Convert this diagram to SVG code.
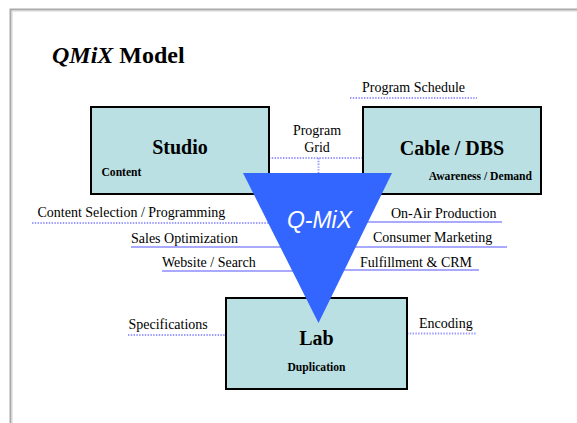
<svg xmlns="http://www.w3.org/2000/svg" width="577" height="423" viewBox="0 0 577 423">
  <style>
    .box { fill: #bae0e3; stroke: #000; stroke-width: 2; }
    .dot { stroke: #9a9aff; stroke-width: 2; stroke-dasharray: 1.4 1.4; fill: none; }
    .sol { stroke: #8c8cff; stroke-width: 1.6; fill: none; }
  </style>
  <rect x="0" y="0" width="577" height="423" fill="#ffffff"/>
  <path d="M10.5 423 V9.5 H577" fill="none" stroke="#a9a9a9" stroke-width="2"/>
  <path d="M12 423 V11 H577" fill="none" stroke="#d4d4d4" stroke-width="1"/>

  <text x="52" y="63" font-family="'Liberation Serif', 'Times New Roman', serif" font-size="24" font-weight="bold"><tspan font-style="italic">QMiX</tspan> Model</text>

  <g id="connectors">
    <line class="dot" x1="350" y1="98" x2="477" y2="98"/>
    <line class="dot" x1="269" y1="158" x2="363" y2="158"/>
    <line class="dot" x1="318.5" y1="158" x2="318.5" y2="176"/>
    <line class="dot" x1="32" y1="223" x2="300" y2="223"/>
    <line class="sol" x1="131" y1="247" x2="300" y2="247"/>
    <line class="sol" x1="162" y1="271" x2="300" y2="271"/>
    <line class="sol" x1="340" y1="222" x2="502" y2="222"/>
    <line class="sol" x1="340" y1="247" x2="507" y2="247"/>
    <line class="sol" x1="340" y1="270" x2="479" y2="270"/>
    <line class="dot" x1="128" y1="335" x2="226" y2="335"/>
    <line class="dot" x1="407" y1="333.5" x2="477" y2="333.5"/>
  </g>

  <g id="studio" font-family="'Liberation Serif', 'Times New Roman', serif" font-weight="bold" fill="#000">
    <rect class="box" x="91" y="107" width="178" height="87"/>
    <text x="180" y="154" font-size="20" text-anchor="middle">Studio</text>
    <text x="101.5" y="176" font-size="11.6">Content</text>
  </g>

  <g id="cable" font-family="'Liberation Serif', 'Times New Roman', serif" font-weight="bold" fill="#000">
    <rect class="box" x="363" y="107" width="178" height="87"/>
    <text x="452" y="155" font-size="20" text-anchor="middle">Cable / DBS</text>
    <text x="532" y="180" font-size="11.6" text-anchor="end">Awareness / Demand</text>
  </g>

  <g id="lab" font-family="'Liberation Serif', 'Times New Roman', serif" font-weight="bold" fill="#000">
    <rect class="box" x="226" y="298" width="181" height="91"/>
    <text x="316.5" y="345" font-size="20" text-anchor="middle">Lab</text>
    <text x="316.5" y="370.5" font-size="11.6" text-anchor="middle">Duplication</text>
  </g>

  <g id="qmix">
    <polygon points="243,173 392,173 318.5,323" fill="#3366ff"/>
    <text x="319.5" y="228.3" font-family="'Liberation Sans', Arial, sans-serif" font-style="italic" font-size="23" fill="#ffffff" text-anchor="middle">Q-MiX</text>
  </g>

  <g id="labels" font-family="'Liberation Serif', 'Times New Roman', serif" font-size="14" fill="#000">
    <text x="362" y="92">Program Schedule</text>
    <text x="317" y="135" text-anchor="middle">Program</text>
    <text x="317" y="151.7" text-anchor="middle">Grid</text>
    <text x="37.5" y="217">Content Selection / Programming</text>
    <text x="131" y="243.3">Sales Optimization</text>
    <text x="162" y="267">Website / Search</text>
    <text x="391" y="218.3">On-Air Production</text>
    <text x="373" y="242.3">Consumer Marketing</text>
    <text x="360" y="267.3">Fulfillment &amp; CRM</text>
    <text x="128.5" y="329">Specifications</text>
    <text x="419" y="328.3">Encoding</text>
  </g>
</svg>
